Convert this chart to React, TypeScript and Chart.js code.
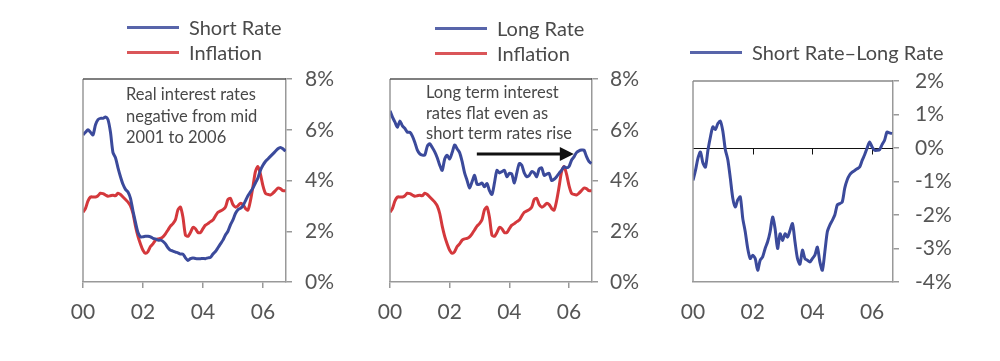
import React, { useEffect, useRef } from 'react';
import { Chart, registerables } from 'chart.js';

Chart.register(...registerables);

// ---------- data ----------
const xTickLabels = ['00', '02', '04', '06'];

// monthly, Jan 2000 onwards (percent)
const shortRate = [
  5.8, 5.9, 6.0, 5.9, 5.8, 6.2, 6.4, 6.45, 6.45, 6.5, 6.4, 5.9,
  5.1, 4.9, 4.5, 4.15, 3.85, 3.65, 3.55, 3.3, 2.8, 2.35, 1.95, 1.78,
  1.78, 1.8, 1.8, 1.78, 1.72, 1.7, 1.65, 1.65, 1.6, 1.5, 1.35, 1.25,
  1.22, 1.18, 1.15, 1.1, 1.1, 0.95, 0.85, 0.92, 0.95, 0.93, 0.92, 0.92,
  0.93, 0.92, 0.95, 0.97, 1.1, 1.2, 1.35, 1.5, 1.65, 1.85, 2.0, 2.25,
  2.45, 2.7, 2.85, 2.9, 3.0, 3.2, 3.4, 3.55, 3.7, 3.9, 4.1, 4.4,
  4.6, 4.75, 4.85, 4.95, 5.05, 5.15, 5.25, 5.3, 5.25, 5.15,
];

const inflation = [
  2.75, 2.9, 3.2, 3.35, 3.35, 3.35, 3.4, 3.5, 3.48, 3.43, 3.38, 3.4,
  3.42, 3.4, 3.5, 3.45, 3.35, 3.25, 3.15, 3.0, 2.7, 2.2, 1.8, 1.5,
  1.25, 1.13, 1.2, 1.4, 1.5, 1.65, 1.7, 1.72, 1.78, 1.9, 2.05, 2.2,
  2.3, 2.45, 2.85, 2.95, 2.55, 1.85, 1.8, 1.95, 2.15, 2.1, 1.95, 1.95,
  2.1, 2.24, 2.3, 2.38, 2.44, 2.6, 2.75, 2.8, 2.85, 2.95, 3.25, 3.3,
  3.05, 2.95, 3.0, 3.1, 3.05, 2.9, 2.83, 3.2, 3.75, 4.35, 4.55, 4.25,
  3.8, 3.5, 3.45, 3.43, 3.5, 3.6, 3.7, 3.68, 3.6, 3.6,
];

const longRate = [
  6.75, 6.5, 6.3, 6.1, 6.35, 6.15, 6.05, 5.9, 5.9, 5.75, 5.5, 5.2,
  5.05, 5.0, 5.0, 5.35, 5.45, 5.3, 5.13, 4.9, 4.6, 4.4, 4.85, 5.0,
  4.85, 5.1, 5.4, 5.25, 5.1, 4.75, 4.3, 4.0, 3.7, 3.95, 4.2, 3.85,
  3.85, 3.9, 3.75, 3.88, 3.6, 3.45, 3.9, 4.4, 4.3, 4.35, 4.4, 4.15,
  4.28, 4.25, 3.9, 4.3, 4.67, 4.6, 4.3, 4.15, 4.2, 4.35, 4.3, 4.15,
  4.45, 4.5, 4.2, 4.25, 4.28, 4.0, 4.05, 4.15, 4.28, 4.4, 4.54, 4.5,
  4.55, 4.8, 4.93, 5.1, 5.17, 5.2, 5.2, 4.95, 4.75, 4.67,
];

const rateSpread = [
  -0.97, -0.67, -0.3, -0.12, -0.45, -0.57, -0.07, 0.33, 0.63, 0.55, 0.73, 0.8,
  0.5, -0.05, -0.35, -0.9, -1.5, -1.76, -1.55, -1.46, -2.1, -2.5, -3.0, -3.3,
  -3.2, -3.3, -3.65, -3.35, -3.25, -3.0, -2.8, -2.5, -2.06, -2.41, -3.0, -2.56,
  -2.76, -2.56, -2.66, -2.46, -2.26, -2.8, -3.3, -3.47, -3.05, -3.3, -3.35, -3.4,
  -3.3, -3.2, -2.96, -3.4, -3.65, -3.1, -2.5, -2.3, -2.16, -2.0, -1.7, -1.66,
  -1.61, -1.2, -0.95, -0.8, -0.72, -0.67, -0.62, -0.57, -0.37, -0.2, 0.0, 0.18,
  0.03, -0.07, -0.07, -0.05, 0.1, 0.23, 0.48, 0.45, 0.43,
];

// arrow annotation in panel 2 (years since 2000, percent)
const arrowFrom = [2.91, 5.04];
const arrowTo = [6.16, 5.04];

const BLUE = '#3b4a9b';
const RED = '#d4383c';
const FONT = 'Lato, "Open Sans", sans-serif';

Chart.defaults.font.family = FONT;

type Series = { label: string; values: number[]; color: string };
type PanelCfg = {
  left: number;
  padLeft: number;
  padTop: number;
  yW: number;
  yPad: number;
  yMin: number;
  yMax: number;
  yStep: number;
  xMax: number;
  series: Series[];
  legendTop: number;
  legendLineLeft: number;
  topColor: string;
  note?: { left: number; top: number; lineHeight: number; lines: string[] };
  arrow?: boolean;
  zeroLine?: boolean;
};

const panels: PanelCfg[] = [
  {
    left: 60, padLeft: 23, padTop: 79, yW: 74, yPad: 13, yMin: 0, yMax: 8, yStep: 2, xMax: 6.77,
    series: [
      { label: 'Short Rate', values: shortRate, color: BLUE },
      { label: 'Inflation', values: inflation, color: RED },
    ],
    legendTop: 27, legendLineLeft: 127, topColor: '#555',
    note: { left: 126, top: 84, lineHeight: 21.5, lines: ['Real interest rates', 'negative from mid', '2001 to 2006'] },
  },
  {
    left: 370, padLeft: 20, padTop: 79, yW: 78, yPad: 12, yMin: 0, yMax: 8, yStep: 2, xMax: 6.77,
    series: [
      { label: 'Long Rate', values: longRate, color: BLUE },
      { label: 'Inflation', values: inflation, color: RED },
    ],
    legendTop: 28, legendLineLeft: 435, topColor: '#555',
    note: { left: 426, top: 82, lineHeight: 20.5, lines: ['Long term interest', 'rates flat even as', 'short term rates rise'] },
    arrow: true,
  },
  {
    left: 670, padLeft: 23, padTop: 81, yW: 77, yPad: 16, yMin: -4, yMax: 2, yStep: 1, xMax: 6.7,
    series: [{ label: 'Short Rate\u2013Long Rate', values: rateSpread, color: BLUE }],
    legendTop: 52, legendLineLeft: 690, topColor: '#888',
    zeroLine: true,
  },
];

const framePlugin = {
  id: 'frame',
  afterDraw(chart: any) {
    const { ctx, chartArea: a } = chart;
    const cfg = chart.options.plugins.frame || {};
    ctx.save();
    ctx.lineWidth = 1.5;
    ctx.strokeStyle = '#999';
    ctx.beginPath();
    ctx.moveTo(a.left, a.bottom);
    ctx.lineTo(a.left, a.top);
    ctx.stroke();
    ctx.strokeStyle = cfg.topColor || '#666';
    ctx.beginPath();
    ctx.moveTo(a.left, a.top);
    ctx.lineTo(a.right, a.top);
    ctx.stroke();
    ctx.restore();
  },
};

const zeroLinePlugin = {
  id: 'zeroLine',
  beforeDatasetsDraw(chart: any) {
    const { ctx, chartArea: a, scales } = chart;
    const y = Math.round(scales.y.getPixelForValue(0)) + 0.5;
    ctx.save();
    ctx.strokeStyle = '#111';
    ctx.lineWidth = 1;
    ctx.beginPath();
    ctx.moveTo(a.left, y);
    ctx.lineTo(a.right, y);
    scales.x.ticks.forEach((t: any) => {
      if (t.value <= 0) return;
      const x = Math.round(scales.x.getPixelForValue(t.value)) + 0.5;
      ctx.moveTo(x, y);
      ctx.lineTo(x, y + 6);
    });
    ctx.stroke();
    ctx.restore();
  },
};

const arrowPlugin = {
  id: 'arrow',
  afterDatasetsDraw(chart: any) {
    const { ctx, scales } = chart;
    const x0 = scales.x.getPixelForValue(arrowFrom[0]);
    const y0 = scales.y.getPixelForValue(arrowFrom[1]);
    const x1 = scales.x.getPixelForValue(arrowTo[0]);
    const y1 = scales.y.getPixelForValue(arrowTo[1]);
    const head = 14;
    ctx.save();
    ctx.strokeStyle = '#111';
    ctx.fillStyle = '#111';
    ctx.lineWidth = 3;
    ctx.beginPath();
    ctx.moveTo(x0, y0);
    ctx.lineTo(x1 - head + 1, y1);
    ctx.stroke();
    ctx.beginPath();
    ctx.moveTo(x1, y1);
    ctx.lineTo(x1 - head, y1 - 7);
    ctx.lineTo(x1 - head, y1 + 7);
    ctx.closePath();
    ctx.fill();
    ctx.restore();
  },
};

function Panel({ cfg }: { cfg: PanelCfg }) {
  const ref = useRef<HTMLCanvasElement>(null);

  useEffect(() => {
    if (!ref.current) return;
    const plugins: any[] = [framePlugin];
    if (cfg.zeroLine) plugins.push(zeroLinePlugin);
    if (cfg.arrow) plugins.push(arrowPlugin);
    const chart = new Chart(ref.current, {
      type: 'line',
      data: {
        datasets: cfg.series.map((s) => ({
          label: s.label,
          data: s.values.map((v, i) => ({ x: i / 12, y: v })),
          borderColor: s.color,
          backgroundColor: s.color,
          borderWidth: 3,
          pointRadius: 0,
          tension: 0.25,
          fill: false,
        })),
      },
      options: {
        animation: false,
        responsive: false,
        devicePixelRatio: 1,
        layout: { padding: { left: cfg.padLeft, top: cfg.padTop, right: 0, bottom: 0 } },
        plugins: {
          legend: { display: false },
          tooltip: { enabled: false },
          frame: { topColor: cfg.topColor },
        },
        scales: {
          x: {
            type: 'linear',
            min: 0,
            max: cfg.xMax,
            afterFit: (s: any) => {
              s.height = 361 - 282;
              s.paddingLeft = 0;
              s.paddingRight = 0;
            },
            ticks: {
              stepSize: 2,
              includeBounds: false,
              autoSkip: false,
              maxRotation: 0,
              padding: 12,
              color: '#555',
              font: { size: 21, family: FONT },
              callback: (v: any) => xTickLabels[Math.round(Number(v) / 2)] ?? '',
            },
            grid: {
              drawOnChartArea: false,
              drawTicks: true,
              tickLength: 6,
              lineWidth: 1.5,
              color: cfg.zeroLine ? 'rgba(0,0,0,0)' : '#999',
            },
            border: { display: true, color: '#999', width: 1.5 },
          },
          y: {
            position: 'right',
            min: cfg.yMin,
            max: cfg.yMax,
            afterFit: (s: any) => { s.width = cfg.yW; },
            ticks: {
              stepSize: cfg.yStep,
              padding: cfg.yPad,
              color: '#555',
              font: { size: 21, family: FONT },
              callback: (v: any) => `${v}%`,
            },
            grid: { drawOnChartArea: false, drawTicks: true, tickLength: 6, lineWidth: 1.5, color: '#999' },
            border: { display: true, color: '#999', width: 1.5 },
          },
        },
      } as any,
      plugins,
    });
    return () => chart.destroy();
  }, [cfg]);

  return (
    <>
      <canvas
        ref={ref}
        width={300}
        height={361}
        style={{ position: 'absolute', left: cfg.left, top: 0, width: 300, height: 361 }}
      />
      {cfg.series.map((s, i) => (
        <div
          key={s.label}
          style={{
            position: 'absolute',
            left: cfg.legendLineLeft,
            top: cfg.legendTop + i * 25 - 13,
            height: 26,
            display: 'flex',
            alignItems: 'center',
            whiteSpace: 'nowrap',
            fontFamily: FONT,
            fontSize: 20,
            color: '#4a4a4a',
          }}
        >
          <span style={{ display: 'inline-block', width: 52, height: 3, background: s.color, marginRight: 10, opacity: 0.85 }} />
          <span>{s.label}</span>
        </div>
      ))}
      {cfg.note && (
        <div
          style={{
            position: 'absolute',
            left: cfg.note.left,
            top: cfg.note.top,
            fontFamily: FONT,
            fontSize: 16.5,
            lineHeight: `${cfg.note.lineHeight}px`,
            color: '#484848',
            whiteSpace: 'nowrap',
          }}
        >
          {cfg.note.lines.map((l) => (
            <div key={l}>{l}</div>
          ))}
        </div>
      )}
    </>
  );
}

export default function App() {
  return (
    <div
      style={{
        position: 'fixed',
        left: 0,
        top: 0,
        width: 1000,
        height: 361,
        background: '#fff',
        overflow: 'hidden',
      }}
    >
      {panels.map((p) => (
        <Panel key={p.left} cfg={p} />
      ))}
    </div>
  );
}
